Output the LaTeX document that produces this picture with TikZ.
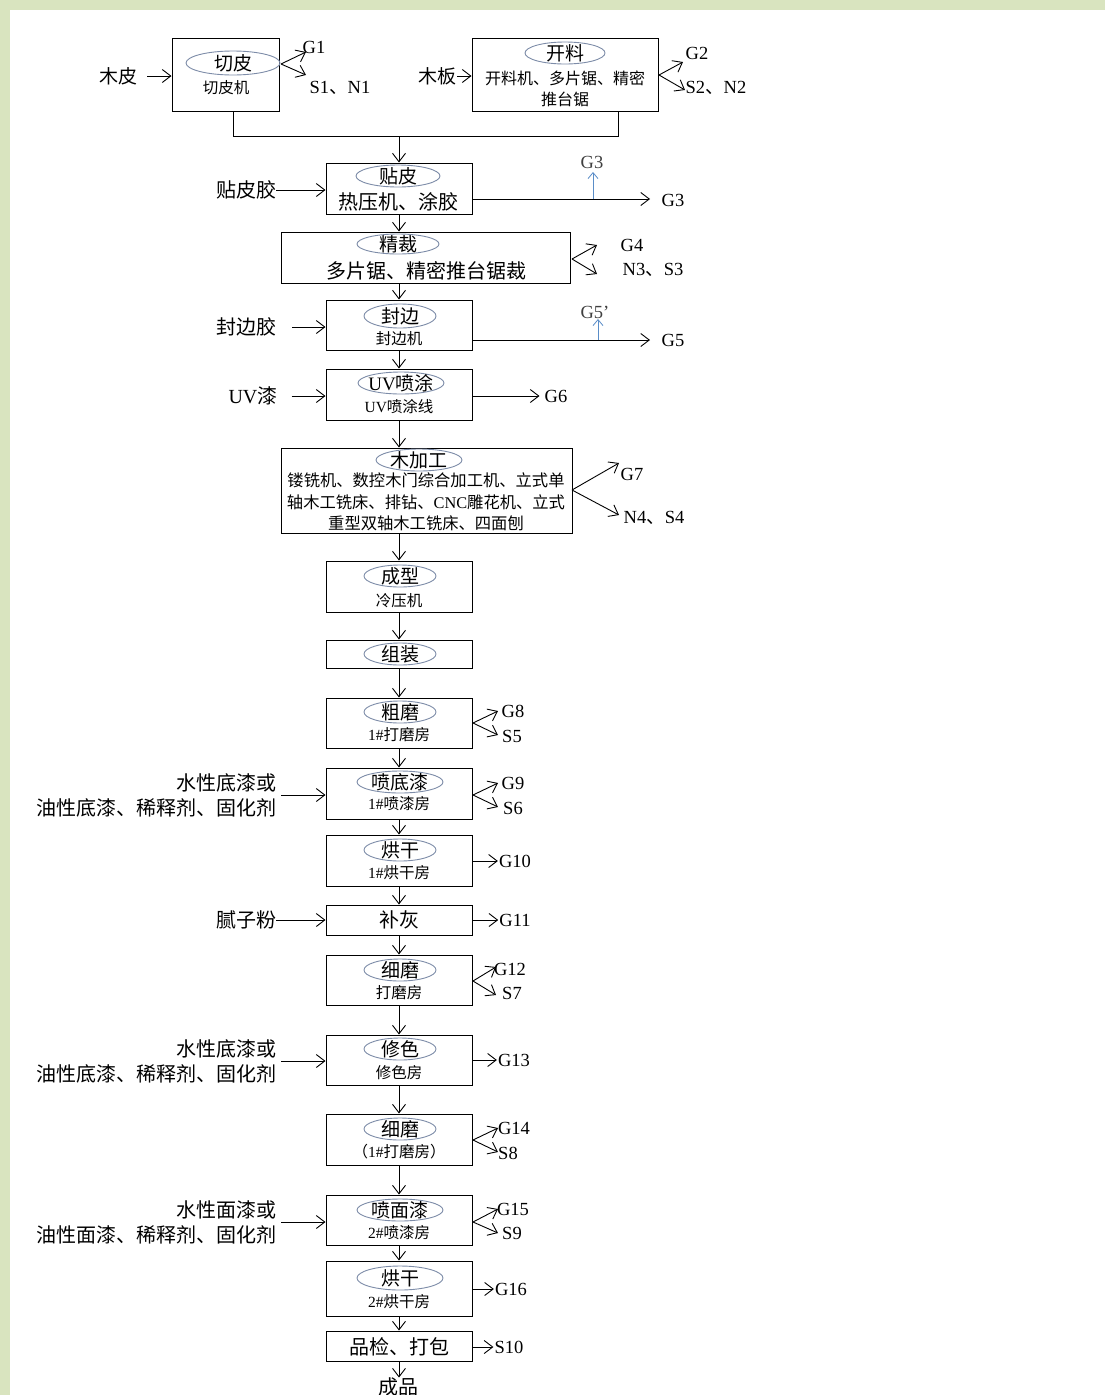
\documentclass[tikz,border=0pt]{standalone}
\usepackage{fontspec}
\setmainfont{Liberation Serif}
\newfontfamily\cjk{Noto Sans CJK SC}
\usetikzlibrary{arrows.meta,shapes.geometric}
\definecolor{bgg}{HTML}{D9E4BF}
\definecolor{ellc}{HTML}{7D8CA8}
\definecolor{blu}{HTML}{5A8DC8}
\newcommand\procbox[5]{\node[box, minimum width={#4-#2}, minimum height={#5-#3}] (#1) at ({(#2+#4)/2},{(#3+#5)/2}) {};}
\begin{document}
\begin{tikzpicture}[x=1pt,y=-1pt,
  box/.style={draw=black, line width=1pt, inner sep=0pt},
  ell/.style={draw=ellc, ellipse, line width=0.9pt, inner sep=0pt, minimum height=22},
  big/.style={font=\cjk\fontsize{19}{19}\selectfont, inner sep=0pt},
  sub/.style={font=\cjk\fontsize{15.5}{18}\selectfont, inner sep=0pt},
  lab/.style={font=\cjk\fontsize{20}{25}\selectfont, inner sep=0pt},
  gl/.style={font=\fontsize{18.5}{20}\selectfont, inner sep=0pt},
  arr/.style={line width=0.9pt, -{Straight Barb[length=8.5pt,width=13pt]}},
  barr/.style={line width=0.8pt, draw=blu, -{Straight Barb[length=6pt,width=10pt]}},
  ln/.style={line width=0.9pt}]
\fill[white] (0,0) rectangle (1105,1395);
\fill[bgg] (0,0) rectangle (1105,10);
\fill[bgg] (0,0) rectangle (10,1395);
\useasboundingbox (0,0) rectangle (1105,1395);
\coordinate (sp) at (399,0);

% ---- 切皮
\procbox{b1}{172}{38}{279}{111}
\node[ell,minimum width=94,minimum height=24] (e1) at (233,63) {};
\node[big] (t1) at (e1) {切皮};
\node[sub] (s1) at (226,88) {切皮机};
\node[big] (in1) at (118,76) {木皮};
\draw[arr] ([xshift=10pt]in1.east) -- (in1.east -| b1.west);
\node[gl] (g1) at (314,47) {G1};
\node[gl] (n1) at (340,88) {S1{\cjk 、}N1};
\coordinate (o1) at (281,64);
\coordinate (o1a) at (306,52);
\coordinate (o1b) at (306,75);
\draw[arr] (o1) -- (o1a);
\draw[arr] (o1) -- (o1b);

% ---- 开料
\procbox{b2}{472}{38}{658}{111}
\node[ell,minimum width=80] (e2) at (565,53) {};
\node[big] (t2) at (e2) {开料};
\node[sub,align=center,font=\cjk\fontsize{16}{21}\selectfont] (s2) at (565,88.5) {开料机、多片锯、精密\\推台锯};
\node[big] (in2) at (437,76) {木板};
\draw[arr] ([xshift=1pt]in2.east) -- (in2.east -| b2.west);
\node[gl] (g2) at (697,53) {G2};
\node[gl] (n2) at (716,88) {S2{\cjk 、}N2};
\coordinate (o2) at (659,75);
\coordinate (o2a) at (683,62);
\coordinate (o2b) at (685,90);
\draw[arr] (o2) -- (o2a);
\draw[arr] (o2) -- (o2b);

% ---- merge
\coordinate (m1) at (233,136);
\coordinate (m2) at (618,136);
\coordinate (m0) at (399,136);
\draw[ln] (b1.south -| m1) -- (m1) -- (m2) -- (b2.south -| m2);

% ---- 贴皮
\procbox{b3}{326}{163}{472}{214}
\draw[arr] (m0) -- (b3.north -| sp);
\node[ell,minimum width=84] (e3) at (398,176) {};
\node[big] (t3) at (e3) {贴皮};
\node[lab] (s3) at (398,202) {热压机、涂胶};
\node[lab] (in3) at (246,190) {贴皮胶};
\draw[arr] (in3.east) -- (in3.east -| b3.west);
\node[gl] (g3) at (673,200) {G3};
\coordinate (o3) at (472,199);
\coordinate (o3e) at (650,199);
\draw[arr] (o3) -- (o3e);
\node[gl,text=darkgray] (g3u) at (592,162) {G3};
\coordinate (bl3a) at (593,199);
\coordinate (bl3b) at (593,172);
\draw[barr] (bl3a) -- (bl3b);

% ---- 精裁
\procbox{b4}{281}{232}{570}{283}
\node[ell,minimum width=82,minimum height=20] (e4) at (398,244) {};
\node[big] (t4) at (e4) {精裁};
\node[lab] (s4) at (426,271) {多片锯、精密推台锯裁};
\node[gl] (g4) at (632,245) {G4};
\node[gl] (n4) at (653,270) {N3{\cjk 、}S3};
\coordinate (o4) at (572,259);
\coordinate (o4a) at (597,245);
\coordinate (o4b) at (597,274);
\draw[arr] (o4) -- (o4a);
\draw[arr] (o4) -- (o4b);

% ---- 封边
\procbox{b5}{326}{300}{472}{350}
\node[ell,minimum width=72,minimum height=24] (e5) at (400,316) {};
\node[big] (t5) at (e5) {封边};
\node[sub] (s5) at (399,339) {封边机};
\node[lab] (in5) at (246,327) {封边胶};
\draw[arr] ([xshift=16pt]in5.east) -- (in5.east -| b5.west);
\node[gl] (g5) at (673,340) {G5};
\coordinate (o5) at (472,340);
\coordinate (o5e) at (650,340);
\draw[arr] (o5) -- (o5e);
\node[gl,text=darkgray] (g5u) at (595,312) {G5'};
\coordinate (bl5a) at (598,340);
\coordinate (bl5b) at (598,319);
\draw[barr] (bl5a) -- (bl5b);

% ---- UV喷涂
\procbox{b6}{326}{369}{472}{420}
\node[ell,minimum width=86] (e6) at (401,383) {};
\node[big] (t6) at (e6) {{\rmfamily UV}喷涂};
\node[sub] (s6) at (399,407) {{\rmfamily UV}喷涂线};
\node[lab] (in6) at (253,396) {{\rmfamily UV}漆};
\draw[arr] ([xshift=14pt]in6.east) -- (in6.east -| b6.west);
\node[gl] (g6) at (556,396) {G6};
\draw[arr] (b6.east |- g6) -- ([xshift=-5pt]g6.west);

% ---- 木加工
\procbox{b7}{281}{448}{572}{533}
\node[ell,minimum width=86] (e7) at (419,460) {};
\node[big] (t7) at (e7) {木加工};
\node[sub,align=center,font=\cjk\fontsize{16.3}{21.5}\selectfont] (s7) at (426,502) {镂铣机、数控木门综合加工机、立式单\\轴木工铣床、排钻、{\rmfamily CNC}雕花机、立式\\重型双轴木工铣床、四面刨};
\node[gl] (g7) at (632,474) {G7};
\node[gl] (n7) at (654,518) {N4{\cjk 、}S4};
\coordinate (o7) at (572,490);
\coordinate (o7a) at (619,463);
\coordinate (o7b) at (619,515);
\draw[arr] (o7) -- (o7a);
\draw[arr] (o7) -- (o7b);

% ---- 成型
\procbox{b8}{326}{561}{472}{612}
\node[ell,minimum width=72] (e8) at (400,576) {};
\node[big] (t8) at (e8) {成型};
\node[sub] (s8) at (399,601) {冷压机};

% ---- 组装
\procbox{b9}{326}{640}{472}{668}
\node[ell,minimum width=72] (e9) at (400,654) {};
\node[big] (t9) at (e9) {组装};

% ---- 粗磨
\procbox{b10}{326}{698}{472}{748}
\node[ell,minimum width=72] (e10) at (400,712) {};
\node[big] (t10) at (e10) {粗磨};
\node[sub] (s10) at (399,735) {{\rmfamily 1\#}打磨房};
\node[gl] (g10) at (513,711) {G8};
\node[gl] (n10) at (512,736) {S5};
\coordinate (o10) at (473,723);
\coordinate (o10a) at (498,711);
\coordinate (o10b) at (498,735);
\draw[arr] (o10) -- (o10a);
\draw[arr] (o10) -- (o10b);

% ---- 喷底漆
\procbox{b11}{326}{768}{472}{819}
\node[ell,minimum width=86] (e11) at (400,782) {};
\node[big] (t11) at (e11) {喷底漆};
\node[sub] (s11) at (399,804) {{\rmfamily 1\#}喷漆房};
\node[lab,align=right,anchor=east] (in11) at (277,795) {水性底漆或\\油性底漆、稀释剂、固化剂};
\draw[arr] ([xshift=4pt]in11.east) -- (in11.east -| b11.west);
\node[gl] (g11) at (513,783) {G9};
\node[gl] (n11) at (513,808) {S6};
\coordinate (o11) at (473,795);
\coordinate (o11a) at (498,783);
\coordinate (o11b) at (498,807);
\draw[arr] (o11) -- (o11a);
\draw[arr] (o11) -- (o11b);

% ---- 烘干 1
\procbox{b12}{326}{835}{472}{886}
\node[ell,minimum width=72] (e12) at (400,850) {};
\node[big] (t12) at (e12) {烘干};
\node[sub] (s12) at (399,873) {{\rmfamily 1\#}烘干房};
\node[gl] (g12) at (515,861) {G10};
\draw[arr] (b12.east |- g12) -- ([xshift=-1pt]g12.west);

% ---- 补灰
\procbox{b13}{326}{905}{472}{935}
\node[lab] (t13) at (399,920) {补灰};
\node[lab] (in13) at (246,920) {腻子粉};
\draw[arr] (in13.east) -- (in13.east -| b13.west);
\node[gl] (g13) at (515,920) {G11};
\draw[arr] (b13.east |- g13) -- ([xshift=-1pt]g13.west);

% ---- 细磨 1
\procbox{b14}{326}{955}{472}{1005}
\node[ell,minimum width=72] (e14) at (400,970) {};
\node[big] (t14) at (e14) {细磨};
\node[sub] (s14) at (399,993) {打磨房};
\node[gl] (g14) at (510,969) {G12};
\node[gl] (n14) at (512,993) {S7};
\coordinate (o14) at (473,981);
\coordinate (o14a) at (496,967);
\coordinate (o14b) at (496,995);
\draw[arr] (o14) -- (o14a);
\draw[arr] (o14) -- (o14b);

% ---- 修色
\procbox{b15}{326}{1035}{472}{1085}
\node[ell,minimum width=72] (e15) at (400,1049) {};
\node[big] (t15) at (e15) {修色};
\node[sub] (s15) at (399,1073) {修色房};
\node[lab,align=right,anchor=east] (in15) at (277,1061) {水性底漆或\\油性底漆、稀释剂、固化剂};
\draw[arr] ([xshift=4pt]in15.east) -- (in15.east -| b15.west);
\node[gl] (g15) at (514,1060) {G13};
\draw[arr] (b15.east |- g15) -- ([xshift=-1pt]g15.west);

% ---- 细磨 2
\procbox{b16}{326}{1114}{472}{1165}
\node[ell,minimum width=72] (e16) at (400,1129) {};
\node[big] (t16) at (e16) {细磨};
\node[sub] (s16) at (399,1152) {（{\rmfamily 1\#}打磨房）};
\node[gl] (g16) at (514,1128) {G14};
\node[gl] (n16) at (508,1153) {S8};
\coordinate (o16) at (473,1140);
\coordinate (o16a) at (498,1128);
\coordinate (o16b) at (498,1152);
\draw[arr] (o16) -- (o16a);
\draw[arr] (o16) -- (o16b);

% ---- 喷面漆
\procbox{b17}{326}{1195}{472}{1245}
\node[ell,minimum width=86] (e17) at (400,1210) {};
\node[big] (t17) at (e17) {喷面漆};
\node[sub] (s17) at (399,1233) {{\rmfamily 2\#}喷漆房};
\node[lab,align=right,anchor=east] (in17) at (277,1222) {水性面漆或\\油性面漆、稀释剂、固化剂};
\draw[arr] ([xshift=4pt]in17.east) -- (in17.east -| b17.west);
\node[gl] (g17) at (513,1209) {G15};
\node[gl] (n17) at (512,1233) {S9};
\coordinate (o17) at (473,1222);
\coordinate (o17a) at (498,1209);
\coordinate (o17b) at (498,1233);
\draw[arr] (o17) -- (o17a);
\draw[arr] (o17) -- (o17b);

% ---- 烘干 2
\procbox{b18}{326}{1261}{472}{1316}
\node[ell,minimum width=86,minimum height=24] (e18) at (400,1278) {};
\node[big] (t18) at (e18) {烘干};
\node[sub] (s18) at (399,1302) {{\rmfamily 2\#}烘干房};
\node[gl] (g18) at (511,1289) {G16};
\draw[arr] (b18.east |- g18) -- ([xshift=-1pt]g18.west);

% ---- 品检、打包
\procbox{b19}{326}{1331}{472}{1361}
\node[lab] (t19) at (399,1347) {品检、打包};
\node[gl] (g19) at (509,1347) {S10};
\draw[arr] (b19.east |- g19) -- ([xshift=-1pt]g19.west);

\node[lab] (cp) at (398,1387) {成品};

\foreach \a/\b in {b3/b4,b4/b5,b5/b6,b6/b7,b7/b8,b8/b9,b9/b10,b10/b11,b11/b12,b12/b13,b13/b14,b14/b15,b15/b16,b16/b17,b17/b18,b18/b19,b19/cp}
  \draw[arr] (\a.south -| sp) -- (\b.north -| sp);
\end{tikzpicture}
\end{document}
